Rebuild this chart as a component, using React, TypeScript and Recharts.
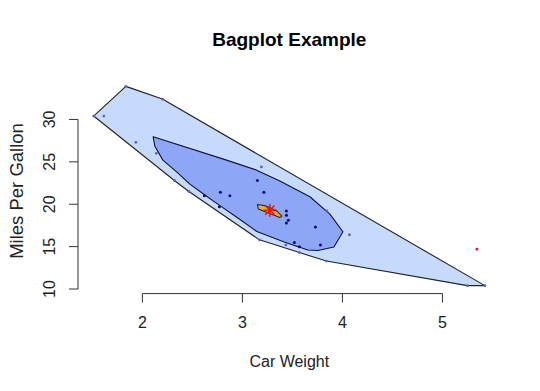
import { ScatterChart, Scatter, XAxis, YAxis, ReferenceLine } from 'recharts';

// convex loop, points inside the fence
const loopHullWt = [1.513, 1.835, 2.2, 5.424, 5.25, 3.84, 3.57, 3.17, 2.465, 2.32];
const loopHullMpg = [30.4, 33.9, 32.4, 10.4, 10.4, 13.3, 14.3, 15.8, 21.5, 22.8];

// the bag (50% depth region)
const bagHullWt = [2.108, 2.842, 3.142, 3.375, 3.675, 3.875, 4.005, 3.915, 3.755, 3.655, 3.505, 3.405, 3.145, 2.955, 2.775, 2.625, 2.475, 2.345, 2.205, 2.125];
const bagHullMpg = [27.95, 25.2, 24.02, 22.73, 20.88, 18.84, 16.75, 14.95, 14.54, 14.6, 15.19, 15.6, 16.78, 18.37, 19.84, 21.08, 22.37, 23.79, 25.2, 26.85];

// median region
const medianHullWt = [3.15, 3.16, 3.375, 3.395, 3.345, 3.225];
const medianHullMpg = [19.96, 19.43, 18.43, 18.6, 19.19, 19.84];

const centerWt = [3.275];
const centerMpg = [19.3];

const bagPointWt = [2.62, 2.875, 3.215, 3.44, 3.46, 3.15, 3.44, 3.44, 3.73, 3.78, 3.52, 3.57, 2.78, 2.77];
const bagPointMpg = [21.0, 21.0, 21.4, 18.7, 18.1, 22.8, 19.2, 17.8, 17.3, 15.2, 15.5, 15.0, 21.4, 19.7];

const loopPointWt = [2.32, 3.57, 3.19, 4.07, 5.25, 5.424, 2.2, 1.615, 1.835, 2.465, 3.435, 3.84, 3.845, 1.935, 2.14, 1.513, 3.17];
const loopPointMpg = [22.8, 14.3, 24.4, 16.4, 10.4, 10.4, 32.4, 30.4, 33.9, 21.5, 15.2, 13.3, 19.2, 27.3, 26.0, 30.4, 15.8];

const outlierWt = [5.345];
const outlierMpg = [14.7];

const xTicks = [2, 3, 4, 5];
const yTicks = [10, 15, 20, 25, 30];

const xDomain = [1.35656, 5.58044];
const yDomain = [9.46, 34.84];

const FONT = '"Liberation Sans", Arial, sans-serif';

const zip = (xs: number[], ys: number[]) => xs.map((x, i) => ({ x, y: ys[i] }));

const hull = (fill: string, stroke: string) => (p: any) => {
  const pts = (p.points || []).map((q: any) => `${q.x},${q.y}`).join(' ');
  return <polygon points={pts} fill={fill} stroke={stroke} strokeWidth={1.1} strokeLinejoin="round" />;
};

const noDot = () => <g />;

const dot = (color: string, r: number) => (p: any) => <circle cx={p.cx} cy={p.cy} r={r} fill={color} />;

const star = (p: any) => {
  const r = 6.5;
  const d = r * 0.7071;
  return (
    <g stroke="#ff0000" strokeWidth={1.3}>
      <line x1={p.cx - r} y1={p.cy} x2={p.cx + r} y2={p.cy} />
      <line x1={p.cx} y1={p.cy - r} x2={p.cx} y2={p.cy + r} />
      <line x1={p.cx - d} y1={p.cy - d} x2={p.cx + d} y2={p.cy + d} />
      <line x1={p.cx - d} y1={p.cy + d} x2={p.cx + d} y2={p.cy - d} />
    </g>
  );
};

const XTick = (p: any) => (
  <text x={p.x} y={p.y} dy={25} textAnchor="middle" fontSize={16} fontFamily={FONT} fill="#222">
    {p.payload.value}
  </text>
);

const YTick = (p: any) => {
  const bx = p.x - 14;
  return (
    <text x={bx} y={p.y} transform={`rotate(-90, ${bx}, ${p.y})`} textAnchor="middle" fontSize={16} fontFamily={FONT} fill="#222">
      {p.payload.value}
    </text>
  );
};

export default function App() {
  return (
    <div style={{ position: 'absolute', left: 0, top: 0, width: 540, height: 391, background: '#fff' }}>
      <ScatterChart width={540} height={391} margin={{ top: 78.4, right: 39.5, left: 0, bottom: 0 }}>
        <XAxis
          type="number"
          dataKey="x"
          domain={xDomain}
          ticks={xTicks}
          allowDataOverflow
          axisLine={false}
          tickLine={{ stroke: '#333' }}
          tickSize={9}
          tickMargin={0}
          height={97.4}
          tick={XTick}
        />
        <YAxis
          type="number"
          dataKey="y"
          domain={yDomain}
          ticks={yTicks}
          allowDataOverflow
          axisLine={false}
          tickLine={{ stroke: '#333' }}
          tickSize={9}
          tickMargin={0}
          width={78}
          tick={YTick}
        />
        <ReferenceLine
          segment={[{ x: xTicks[0], y: yDomain[0] }, { x: xTicks[xTicks.length - 1], y: yDomain[0] }]}
          stroke="#333"
          ifOverflow="visible"
        />
        <ReferenceLine
          segment={[{ x: xDomain[0], y: yTicks[0] }, { x: xDomain[0], y: yTicks[yTicks.length - 1] }]}
          stroke="#333"
          ifOverflow="visible"
        />
        <Scatter data={zip(loopHullWt, loopHullMpg)} line={hull('#c6dafb', '#222')} lineType="joint" shape={noDot} isAnimationActive={false} />
        <Scatter data={zip(bagHullWt, bagHullMpg)} line={hull('#8da6f5', '#101040')} lineType="joint" shape={noDot} isAnimationActive={false} />
        <Scatter data={zip(loopPointWt, loopPointMpg)} shape={dot('#5a5fd8', 1.4)} isAnimationActive={false} />
        <Scatter data={zip(bagPointWt, bagPointMpg)} shape={dot('#0a0a80', 1.5)} isAnimationActive={false} />
        <Scatter data={zip(medianHullWt, medianHullMpg)} line={hull('#f7a640', '#3a2a10')} lineType="joint" shape={noDot} isAnimationActive={false} />
        <Scatter data={zip(centerWt, centerMpg)} shape={star} isAnimationActive={false} />
        <Scatter data={zip(outlierWt, outlierMpg)} shape={dot('#cc1040', 1.4)} isAnimationActive={false} />
      </ScatterChart>
      <svg width={540} height={391} style={{ position: 'absolute', left: 0, top: 0, pointerEvents: 'none' }}>
        <text x={289.3} y={46} textAnchor="middle" fontSize={19} fontWeight="bold" fontFamily={FONT} fill="#000">
          Bagplot Example
        </text>
        <text x={289.3} y={367} textAnchor="middle" fontSize={16} fontFamily={FONT} fill="#222">
          Car Weight
        </text>
        <text x={23} y={191} transform="rotate(-90, 23, 191)" textAnchor="middle" fontSize={18.5} fontFamily={FONT} fill="#222">
          Miles Per Gallon
        </text>
      </svg>
    </div>
  );
}
